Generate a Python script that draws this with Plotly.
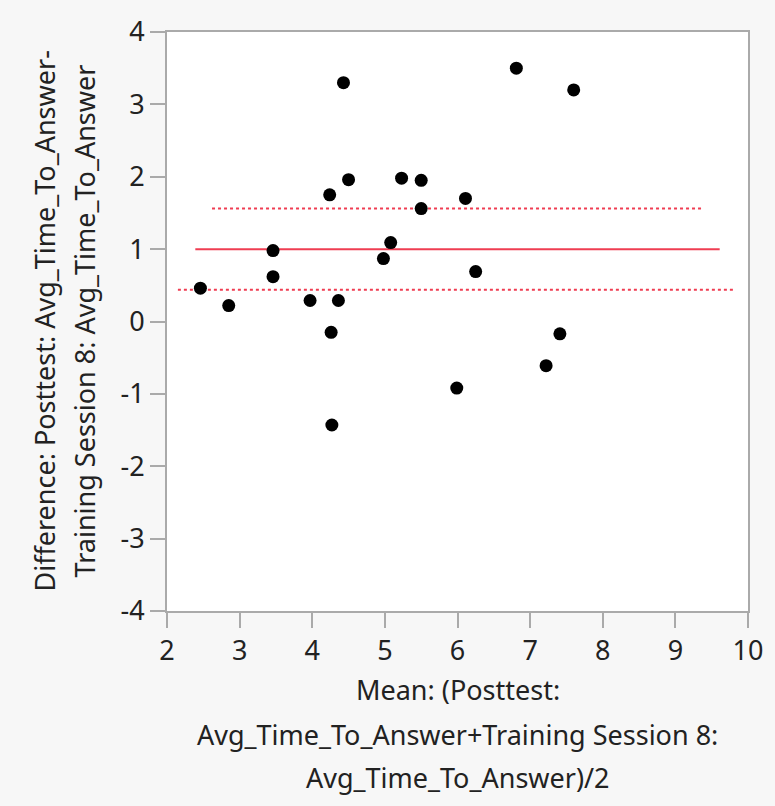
import plotly.graph_objects as go

# Data
mean_x = [2.46, 2.85, 3.46, 3.46, 3.97, 4.36, 4.26, 4.24, 4.43, 4.50, 4.98, 5.08,
          5.23, 5.50, 5.50, 6.11, 4.27, 5.99, 6.81, 7.60, 6.25, 7.41, 7.22]
diff_y = [0.46, 0.22, 0.98, 0.62, 0.29, 0.29, -0.15, 1.75, 3.30, 1.96, 0.87, 1.09,
          1.98, 1.95, 1.56, 1.70, -1.43, -0.92, 3.50, 3.20, 0.69, -0.17, -0.61]

mean_diff = 1.0
upper_ci = 1.56
lower_ci = 0.44
mean_line_x = [2.39, 9.61]
upper_line_x = [2.62, 9.36]
lower_line_x = [2.15, 9.83]

x_ticks = [2, 3, 4, 5, 6, 7, 8, 9, 10]
y_ticks = [4, 3, 2, 1, 0, -1, -2, -3, -4]
y_tick_text = ["4", "3", "2", "1", "0", "-1", "-2", "-3", "-4"]

x_title_lines = ["Mean: (Posttest:",
                 "Avg_Time_To_Answer+Training Session 8:",
                 "Avg_Time_To_Answer)/2"]
y_title_lines = ["Difference: Posttest: Avg_Time_To_Answer-",
                 "Training Session 8: Avg_Time_To_Answer"]

RED = "#ef3d52"
FONT = "Noto Sans"
TXT = "#222222"

W, H = 775, 806
ML, MR, MT, MB = 167, 27, 30, 195

fig = go.Figure()
fig.add_trace(go.Scatter(x=mean_line_x, y=[mean_diff, mean_diff], mode="lines",
                         line=dict(color=RED, width=2), hoverinfo="skip"))
fig.add_trace(go.Scatter(x=upper_line_x, y=[upper_ci, upper_ci], mode="lines",
                         line=dict(color=RED, width=2, dash="dot"), hoverinfo="skip"))
fig.add_trace(go.Scatter(x=lower_line_x, y=[lower_ci, lower_ci], mode="lines",
                         line=dict(color=RED, width=2, dash="dot"), hoverinfo="skip"))
fig.add_trace(go.Scatter(x=mean_x, y=diff_y, mode="markers",
                         marker=dict(color="black", size=13)))

axis_common = dict(showline=True, linecolor="#aaaaaa", linewidth=2, mirror=True,
                   ticks="outside", ticklen=15, tickwidth=2, tickcolor="#aaaaaa",
                   showgrid=False, zeroline=False,
                   tickfont=dict(family=FONT, size=27, color=TXT))

fig.update_layout(
    width=W, height=H,
    margin=dict(l=ML, r=MR, t=MT, b=MB),
    paper_bgcolor="#f7f7f7", plot_bgcolor="white",
    showlegend=False,
    font=dict(family=FONT, color=TXT),
    xaxis=dict(range=[2, 10], tickvals=x_ticks, **axis_common),
    yaxis=dict(range=[-4, 4], tickvals=y_ticks, ticktext=y_tick_text, **axis_common),
)

plot_h = H - MT - MB
plot_w = W - ML - MR
x_title_y = [690, 735, 778]
for txt, py in zip(x_title_lines, x_title_y):
    fig.add_annotation(text=txt, xref="paper", yref="paper", x=0.5,
                       y=(H - MB - py) / plot_h,
                       showarrow=False, xanchor="center", yanchor="middle",
                       font=dict(family=FONT, size=27, color=TXT))

y_title_x = [44, 84]
for txt, px in zip(y_title_lines, y_title_x):
    fig.add_annotation(text=txt, xref="paper", yref="paper",
                       x=(px - ML) / plot_w, y=0.5,
                       showarrow=False, xanchor="center", yanchor="middle",
                       textangle=-90,
                       font=dict(family=FONT, size=27, color=TXT))

fig.write_html("out.html",
               config={"displayModeBar": False},
               post_script="document.body.style.margin='0';"
                           "document.body.style.background='#f7f7f7';")
